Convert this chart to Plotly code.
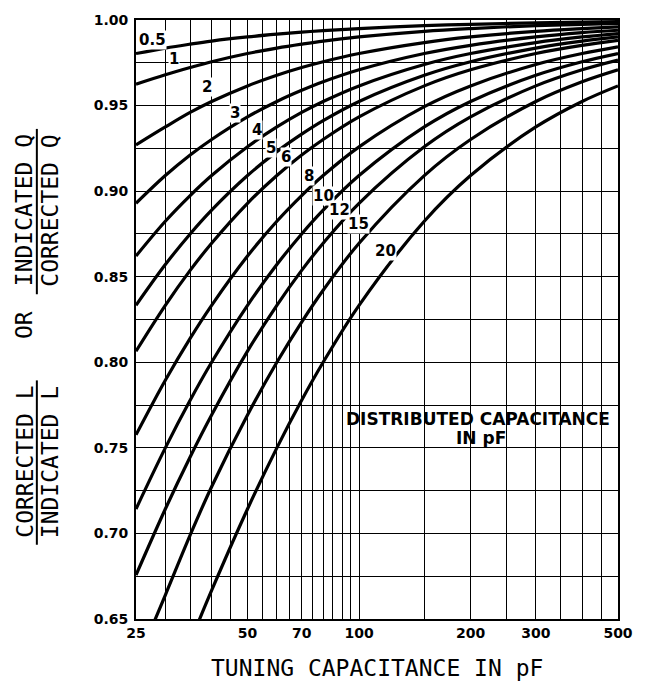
import plotly.graph_objects as go
import math

# ---------------- data ----------------
tuning_pf = [25, 30, 35, 40, 50, 60, 70, 80, 100, 150, 200, 300, 400, 500]

curve_names = ["0.5", "1", "2", "3", "4", "5", "6", "8", "10", "12", "15", "20"]

ratio_0_5 = [0.9804, 0.9836, 0.9859, 0.9877, 0.9901, 0.9917, 0.9929, 0.9938, 0.9950, 0.9967, 0.9975, 0.9983, 0.9988, 0.9990]
ratio_1 = [0.9625, 0.9680, 0.9722, 0.9756, 0.9804, 0.9836, 0.9859, 0.9877, 0.9901, 0.9934, 0.9950, 0.9967, 0.9975, 0.9980]
ratio_2 = [0.9270, 0.9375, 0.9460, 0.9524, 0.9615, 0.9677, 0.9722, 0.9756, 0.9804, 0.9868, 0.9901, 0.9934, 0.9950, 0.9960]
ratio_3 = [0.8929, 0.9091, 0.9211, 0.9302, 0.9434, 0.9524, 0.9589, 0.9639, 0.9709, 0.9804, 0.9852, 0.9901, 0.9926, 0.9940]
ratio_4 = [0.8621, 0.8824, 0.8974, 0.9091, 0.9259, 0.9375, 0.9460, 0.9524, 0.9615, 0.9740, 0.9804, 0.9868, 0.9901, 0.9921]
ratio_5 = [0.8333, 0.8571, 0.8750, 0.8889, 0.9091, 0.9231, 0.9333, 0.9412, 0.9524, 0.9677, 0.9756, 0.9836, 0.9877, 0.9901]
ratio_6 = [0.8065, 0.8333, 0.8537, 0.8696, 0.8929, 0.9091, 0.9211, 0.9302, 0.9434, 0.9615, 0.9709, 0.9804, 0.9852, 0.9881]
ratio_8 = [0.7576, 0.7895, 0.8140, 0.8333, 0.8621, 0.8824, 0.8974, 0.9091, 0.9259, 0.9494, 0.9615, 0.9740, 0.9804, 0.9843]
ratio_10 = [0.7143, 0.7500, 0.7778, 0.8000, 0.8333, 0.8571, 0.8750, 0.8889, 0.9091, 0.9375, 0.9524, 0.9677, 0.9756, 0.9804]
ratio_12 = [0.6757, 0.7143, 0.7447, 0.7692, 0.8065, 0.8333, 0.8537, 0.8696, 0.8929, 0.9259, 0.9434, 0.9615, 0.9709, 0.9766]
ratio_15 = [0.6230, 0.6640, 0.6990, 0.7273, 0.7692, 0.8000, 0.8235, 0.8421, 0.8696, 0.9091, 0.9302, 0.9524, 0.9639, 0.9709]
ratio_20 = [0.5556, 0.6000, 0.6364, 0.6667, 0.7143, 0.7500, 0.7778, 0.8000, 0.8333, 0.8824, 0.9091, 0.9375, 0.9524, 0.9615]

curve_values = [ratio_0_5, ratio_1, ratio_2, ratio_3, ratio_4, ratio_5, ratio_6,
                ratio_8, ratio_10, ratio_12, ratio_15, ratio_20]

# label anchor points for each curve (data coordinates)
label_x = [27.7, 31.7, 38.8, 46.3, 53.0, 58.0, 63.6, 73.2, 80.2, 88.4, 99.9, 117.8]
label_y = [0.9885, 0.9775, 0.9608, 0.9457, 0.9359, 0.9255, 0.9197, 0.9087, 0.8971, 0.8890, 0.8809, 0.8653]

x_grid_vals = [25, 30, 35, 40, 45, 50, 55, 60, 65, 70, 75, 80, 85, 90, 95, 100,
               150, 200, 250, 300, 350, 400, 450, 500]
x_tick_labels = {25: "25", 50: "50", 70: "70", 100: "100", 200: "200", 300: "300", 500: "500"}

y_grid_vals = [0.65, 0.675, 0.70, 0.725, 0.75, 0.775, 0.80, 0.825, 0.85, 0.875,
               0.90, 0.925, 0.95, 0.975, 1.00]
y_tick_labels = {0.65: "0.65", 0.70: "0.70", 0.75: "0.75", 0.80: "0.80", 0.85: "0.85",
                 0.90: "0.90", 0.95: "0.95", 1.00: "1.00"}

# ---------------- figure ----------------
W, H = 645, 683
ML, MR, MT, MB = 136, 18, 14, 64
PW, PH = W - ML - MR, H - MT - MB


def px_x(p):
    return (p - ML) / PW


def px_y(p):
    return (H - MB - p) / PH


fig = go.Figure()

for name, vals in zip(curve_names, curve_values):
    fig.add_trace(go.Scatter(
        x=tuning_pf, y=vals, mode="lines", name=name,
        line=dict(color="black", width=3.2, shape="spline", smoothing=1.0),
        showlegend=False, hoverinfo="skip"))

tick_font = dict(family="DejaVu Sans", size=14, color="black", weight="bold")
mono = dict(family="DejaVu Sans Mono", size=23, color="black")

annotations = []
for name, lx, ly in zip(curve_names, label_x, label_y):
    annotations.append(dict(
        x=math.log10(lx), y=ly, xref="x", yref="y", text=name, showarrow=False,
        font=dict(family="DejaVu Sans", size=15, color="black", weight="bold"),
        bgcolor="white", borderpad=0, xanchor="center", yanchor="middle"))

# box label (two lines)
box_font = dict(family="DejaVu Sans", size=17, color="black", weight="bold")
annotations.append(dict(
    x=px_x(484), y=px_y(417), xref="paper", yref="paper",
    text="DISTRIBUTED CAPACITANCE", showarrow=False, font=box_font,
    xanchor="center", yanchor="middle"))
annotations.append(dict(
    x=px_x(487), y=px_y(436), xref="paper", yref="paper",
    text="IN pF", showarrow=False, font=box_font,
    xanchor="center", yanchor="middle"))

# x-axis title
annotations.append(dict(
    x=px_x(381), y=px_y(668), xref="paper", yref="paper",
    text="TUNING CAPACITANCE IN pF", showarrow=False, font=mono,
    xanchor="center", yanchor="middle"))

# y-axis title pieces (rotated)
for txt, cx, cy in [("INDICATED Q", 22, 206), ("CORRECTED Q", 48, 207),
                    ("OR", 22, 322),
                    ("CORRECTED L", 22, 460), ("INDICATED L", 48, 461)]:
    annotations.append(dict(
        x=px_x(cx), y=px_y(cy), xref="paper", yref="paper", text=txt,
        showarrow=False, font=mono, textangle=-90,
        xanchor="center", yanchor="middle"))

shapes = [
    # white panel behind box label
    dict(type="rect", xref="paper", yref="y", x0=px_x(336), x1=1.0,
         y0=0.7506, y1=0.7744, fillcolor="white", line=dict(width=0), layer="between"),
    # fraction bars
    dict(type="line", xref="paper", yref="paper", x0=px_x(35), x1=px_x(35),
         y0=px_y(124), y1=px_y(291), line=dict(color="black", width=2)),
    dict(type="line", xref="paper", yref="paper", x0=px_x(35), x1=px_x(35),
         y0=px_y(378), y1=px_y(544), line=dict(color="black", width=2)),
]

fig.update_layout(
    width=W, height=H,
    margin=dict(l=ML, r=MR, t=MT, b=MB, pad=0),
    paper_bgcolor="white", plot_bgcolor="white",
    annotations=annotations, shapes=shapes,
    xaxis=dict(
        type="log", range=[math.log10(25), math.log10(500)],
        tickmode="array", tickvals=x_grid_vals,
        ticktext=[x_tick_labels.get(v, "") for v in x_grid_vals],
        showgrid=True, gridcolor="black", gridwidth=1.4,
        showline=True, linecolor="black", linewidth=2, mirror=True,
        ticks="", tickfont=tick_font, zeroline=False),
    yaxis=dict(
        range=[0.65, 1.0],
        tickmode="array", tickvals=y_grid_vals,
        ticktext=[y_tick_labels.get(round(v, 3), "") for v in y_grid_vals],
        showgrid=True, gridcolor="black", gridwidth=1.4,
        showline=True, linecolor="black", linewidth=2, mirror=True,
        ticks="", tickfont=tick_font, zeroline=False, ticklabelstandoff=3),
)

fig.write_html(
    "out.html",
    config={"displayModeBar": False},
    post_script="document.body.style.margin='0';document.body.style.padding='0';",
)
